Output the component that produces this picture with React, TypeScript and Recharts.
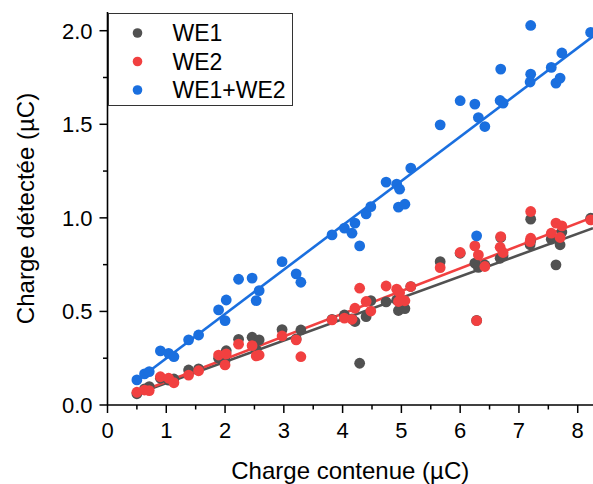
import { ComposedChart, Scatter, Line, XAxis, YAxis } from 'recharts';

// charge contenue (µC), shared by the three series
const chargeContenue = [
  0.5, 0.63, 0.71, 0.9, 1.04, 1.13, 1.38, 1.55, 1.89, 2.0, 2.02, 2.23, 2.46, 2.53, 2.58, 2.97,
  3.21, 3.29, 3.82, 4.03, 4.16, 4.21, 4.29, 4.4, 4.48, 4.74, 4.92, 4.97, 4.95, 5.06, 5.16, 5.66,
  6.0, 6.25, 6.28, 6.31, 6.42, 6.68, 6.73, 6.69, 7.2, 7.2, 7.19, 7.55, 7.63, 7.7, 7.73, 8.22,
];

const we1 = [
  0.06, 0.086, 0.098, 0.143, 0.133, 0.139, 0.187, 0.193, 0.25, 0.237, 0.29, 0.351, 0.362, 0.296, 0.348, 0.403,
  0.353, 0.401, 0.458, 0.481, 0.46, 0.446, 0.223, 0.472, 0.558, 0.551, 0.561, 0.553, 0.505, 0.515, 0.633, 0.766,
  0.811, 0.758, 0.452, 0.735, 0.748, 0.784, 0.798, 0.895, 0.993, 0.877, 0.856, 0.886, 0.749, 0.856, 0.924, 0.998,
];

const we2 = [
  0.068, 0.08, 0.077, 0.151, 0.143, 0.119, 0.16, 0.183, 0.267, 0.214, 0.273, 0.325, 0.317, 0.262, 0.267, 0.369,
  0.348, 0.258, 0.455, 0.464, 0.458, 0.517, 0.624, 0.553, 0.502, 0.636, 0.619, 0.6, 0.553, 0.557, 0.633, 0.734,
  0.815, 0.85, 0.451, 0.802, 0.74, 0.843, 0.815, 0.9, 1.034, 0.891, 0.873, 0.918, 0.972, 0.895, 0.957, 0.989,
];

const weSum = [
  0.134, 0.166, 0.178, 0.289, 0.276, 0.258, 0.348, 0.374, 0.508, 0.451, 0.561, 0.672, 0.678, 0.558, 0.611, 0.766,
  0.701, 0.656, 0.909, 0.945, 0.918, 0.972, 0.85, 1.021, 1.06, 1.191, 1.18, 1.153, 1.057, 1.073, 1.266, 1.497,
  1.626, 1.608, 0.904, 1.536, 1.488, 1.627, 1.613, 1.795, 2.028, 1.768, 1.726, 1.804, 1.72, 1.747, 1.881, 1.991,
];

// linear fits (slope, intercept)
const fitSlopes = [0.114, 0.121, 0.237];
const fitIntercepts = [0.003, 0.004, 0.012];

const seriesNames = ['WE1', 'WE2', 'WE1+WE2'];
const seriesColors = ['#515151', '#f14040', '#1a6fdf'];
const seriesValues = [we1, we2, weSum];

const xTicks = [0, 0.5, 1, 1.5, 2, 2.5, 3, 3.5, 4, 4.5, 5, 5.5, 6, 6.5, 7, 7.5, 8];
const yTicks = [0, 0.25, 0.5, 0.75, 1, 1.25, 1.5, 1.75, 2];
const X_MAX = 8.26;
const Y_MAX = 2.1;

const FONT = '"Liberation Sans", Arial, sans-serif';

const series = seriesNames.map((name, i) => {
  const xMin = Math.min(...chargeContenue);
  return {
    name,
    color: seriesColors[i],
    points: chargeContenue.map((x, j) => ({ x, y: seriesValues[i][j] })),
    fit: [xMin, X_MAX].map(x => ({ x, y: fitSlopes[i] * x + fitIntercepts[i] })),
  };
});

function BottomTick({ x, y, payload }: any) {
  const major = Number.isInteger(payload.value);
  return (
    <g>
      <line x1={x} x2={x} y1={y} y2={y + (major ? 8 : 4.5)} stroke="#000" strokeWidth={1.5} />
      {major && (
        <text x={x} y={y + 33} textAnchor="middle" fontSize={22} fill="#000">
          {payload.value}
        </text>
      )}
    </g>
  );
}

function TopTick({ x, y, payload }: any) {
  const major = Number.isInteger(payload.value);
  return <line x1={x} x2={x} y1={y} y2={y - (major ? 8 : 4.5)} stroke="#000" strokeWidth={1.5} />;
}

function LeftTick({ x, y, payload }: any) {
  const major = Math.round(payload.value * 2) === payload.value * 2;
  return (
    <g>
      <line x1={x} x2={x - (major ? 8 : 4.5)} y1={y} y2={y} stroke="#000" strokeWidth={1.5} />
      {major && (
        <text x={x - 15} y={y + 8} textAnchor="end" fontSize={22} fill="#000">
          {payload.value.toFixed(1)}
        </text>
      )}
    </g>
  );
}

function Dot(color: string) {
  return (p: any) => <circle cx={p.cx} cy={p.cy} r={5.4} fill={color} />;
}

export default function App() {
  return (
    <div style={{ position: 'relative', width: 593, height: 484, fontFamily: FONT, background: '#fff' }}>
      <style>{'body{margin:0}'}</style>
      <ComposedChart width={593} height={484} margin={{ top: 12, right: 0, bottom: 0, left: 0 }}>
        <XAxis
          xAxisId={0}
          dataKey="x"
          type="number"
          domain={[0, X_MAX]}
          ticks={xTicks}
          interval={0}
          height={79}
          tickSize={0}
          tickMargin={0}
          tickLine={false}
          tick={<BottomTick />}
          axisLine={{ stroke: '#000', strokeWidth: 1.6 }}
          label={{
            value: 'Charge contenue (µC)',
            position: 'insideBottom',
            offset: 5.5,
            fontSize: 24,
            fill: '#000',
          }}
        />
        <XAxis
          xAxisId="top"
          dataKey="x"
          type="number"
          orientation="top"
          domain={[0, X_MAX]}
          ticks={xTicks}
          interval={0}
          height={0}
          tickSize={0}
          tickMargin={0}
          tickLine={false}
          tick={<TopTick />}
          axisLine={{ stroke: '#000', strokeWidth: 1.6 }}
        />
        <YAxis
          dataKey="y"
          type="number"
          domain={[0, Y_MAX]}
          ticks={yTicks}
          interval={0}
          width={107.5}
          tickSize={0}
          tickMargin={0}
          tickLine={false}
          tick={<LeftTick />}
          axisLine={{ stroke: '#000', strokeWidth: 1.6 }}
          label={{
            content: (props: any) => {
              const vb = props.viewBox;
              const cy = vb.y + vb.height / 2;
              return (
                <text
                  transform={`translate(34, ${cy}) rotate(-90)`}
                  textAnchor="middle"
                  fontSize={24}
                  fill="#000"
                >
                  Charge détectée (µC)
                </text>
              );
            },
          }}
        />
        {series.map(s => (
          <Scatter
            key={s.name}
            name={s.name}
            data={s.points}
            dataKey="y"
            fill={s.color}
            shape={Dot(s.color)}
            isAnimationActive={false}
          />
        ))}
        {series.map(s => (
          <Line
            key={s.name + '-fit'}
            data={s.fit}
            dataKey="y"
            type="linear"
            stroke={s.color}
            strokeWidth={2.6}
            dot={false}
            activeDot={false}
            legendType="none"
            isAnimationActive={false}
          />
        ))}
      </ComposedChart>
      <div
        style={{
          position: 'absolute',
          left: 107.5,
          top: 12.5,
          width: 185,
          height: 93,
          border: '1px solid #333',
          background: '#fff',
          boxSizing: 'border-box',
        }}
      >
        <svg width={185} height={93}>
          {series.map((s, i) => (
            <g key={s.name}>
              <circle cx={28.5} cy={19 + i * 28.5} r={4.8} fill={s.color} />
              <text x={63.5} y={19 + i * 28.5 + 8} fontSize={23} fill="#000" fontFamily={FONT}>
                {s.name}
              </text>
            </g>
          ))}
        </svg>
      </div>
    </div>
  );
}
